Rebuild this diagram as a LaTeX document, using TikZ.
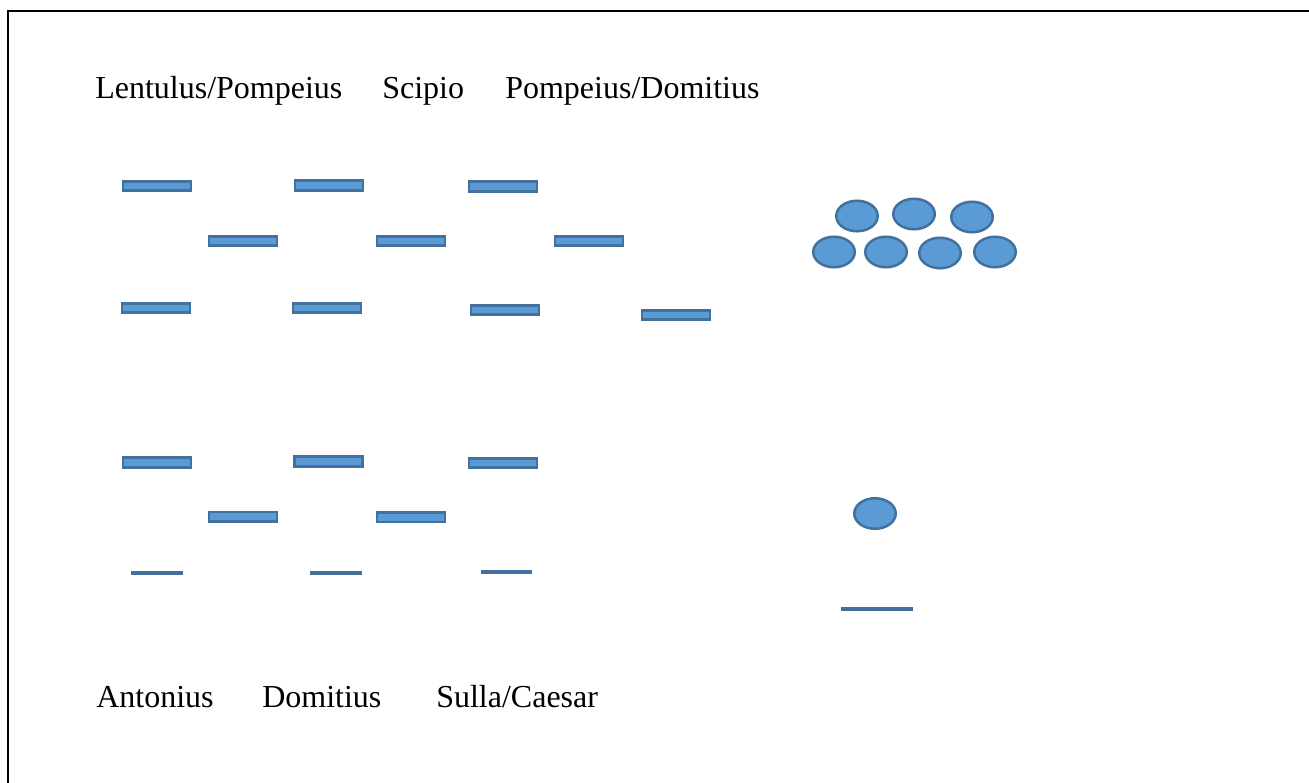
\documentclass[tikz,border=0pt]{standalone}
\usepackage{fontspec}
\setmainfont{Liberation Serif}
\definecolor{barfill}{HTML}{5B9BD5}
\definecolor{barline}{HTML}{41719C}
\begin{document}
\begin{tikzpicture}[x=0.75pt,y=0.75pt,yscale=-1,xscale=1,
  bar/.style={draw=barline,fill=barfill,line width=1.9pt},
  ball/.style={draw=barline,fill=barfill,line width=1.9pt},
  rest/.style={draw=barline,line width=3pt},
  actor/.style={anchor=base west,inner sep=0pt,font=\fontsize{24}{28}\selectfont}]
\useasboundingbox (0,0) rectangle (1309,782);
\clip (0,0) rectangle (1309,782);
\draw [line width=1.5pt] (8.3,800) -- (8.3,11) -- (1320,11) ;
% upper group
\draw [bar] (123,181.25) rectangle (191,190.75) ;
\draw [bar] (295,180.75) rectangle (363,190.25) ;
\draw [bar] (469,181.75) rectangle (537,191.25) ;
\draw [bar] (209,236.25) rectangle (277,245.75) ;
\draw [bar] (377,236.25) rectangle (445,245.75) ;
\draw [bar] (555,236.25) rectangle (623,245.75) ;
\draw [bar] (122,303.25) rectangle (190,312.75) ;
\draw [bar] (293,303.25) rectangle (361,312.75) ;
\draw [bar] (471,305.25) rectangle (539,314.75) ;
\draw [bar] (642,310.25) rectangle (710,319.75) ;
% lower group
\draw [bar] (123,457.75) rectangle (191,467.25) ;
\draw [bar] (294.5,456.75) rectangle (362.5,466.25) ;
\draw [bar] (469,458.25) rectangle (537,467.75) ;
\draw [bar] (209,512) rectangle (277,521.5) ;
\draw [bar] (377,512.5) rectangle (445,522) ;
\draw [rest] (131,572.5) -- (183,572.5) ;
\draw [rest] (310,573) -- (362,573) ;
\draw [rest] (481,572) -- (532,572) ;
% balls
\draw [ball] (857,216) ellipse [x radius=20.75, y radius=15.25] ;
\draw [ball] (914,214) ellipse [x radius=20.75, y radius=15.25] ;
\draw [ball] (972,217) ellipse [x radius=20.75, y radius=15.25] ;
\draw [ball] (834,252) ellipse [x radius=20.75, y radius=15.25] ;
\draw [ball] (886,252) ellipse [x radius=20.75, y radius=15.25] ;
\draw [ball] (940,253) ellipse [x radius=20.75, y radius=15.25] ;
\draw [ball] (995,252) ellipse [x radius=20.75, y radius=15.25] ;
\draw [ball] (875,513.5) ellipse [x radius=20.75, y radius=15.25] ;
\draw [rest] (841,608.5) -- (913,608.5) ;
% names
\node [actor] (lentulus) at (95,98) {Lentulus/Pompeius};
\node [actor] (scipio) at (382,98) {Scipio};
\node [actor] (pompeius) at (505,98) {Pompeius/Domitius};
\node [actor] (antonius) at (96,707) {Antonius};
\node [actor] (domitius) at (262,707) {Domitius};
\node [actor] (sulla) at (436,707) {Sulla/Caesar};
\end{tikzpicture}
\end{document}
